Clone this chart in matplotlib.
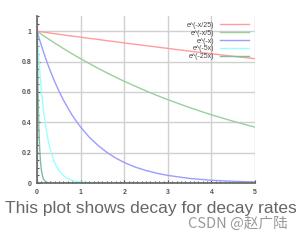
import matplotlib.pyplot as plt
from matplotlib.ticker import MultipleLocator

plt.rcParams['font.family'] = ['Liberation Sans', 'DejaVu Sans']

x = [0, 0.02, 0.04, 0.06, 0.08, 0.1, 0.125, 0.15, 0.2, 0.25, 0.3,
     0.4, 0.5, 0.6, 0.7, 0.8, 0.9, 1.0, 1.2, 1.4, 1.6, 1.8, 2.0,
     2.25, 2.5, 2.75, 3, 3.5, 4, 4.5, 5]
y_25 = [1, 0.999, 0.998, 0.998, 0.997, 0.996, 0.995, 0.994, 0.992, 0.990, 0.988,
        0.984, 0.980, 0.976, 0.972, 0.968, 0.965, 0.961, 0.953, 0.946, 0.938,
        0.931, 0.923, 0.914, 0.905, 0.896, 0.887, 0.869, 0.852, 0.835, 0.819]
y_5 = [1, 0.996, 0.992, 0.988, 0.984, 0.980, 0.975, 0.970, 0.961, 0.951, 0.942,
       0.923, 0.905, 0.887, 0.869, 0.852, 0.835, 0.819, 0.787, 0.756, 0.726,
       0.698, 0.670, 0.638, 0.607, 0.577, 0.549, 0.497, 0.449, 0.407, 0.368]
y_1 = [1, 0.980, 0.961, 0.942, 0.923, 0.905, 0.882, 0.861, 0.819, 0.779, 0.741,
       0.670, 0.607, 0.549, 0.497, 0.449, 0.407, 0.368, 0.301, 0.247, 0.202,
       0.165, 0.135, 0.105, 0.082, 0.064, 0.050, 0.030, 0.018, 0.011, 0.007]
y_m5 = [1, 0.905, 0.819, 0.741, 0.670, 0.607, 0.535, 0.472, 0.368, 0.287, 0.223,
        0.135, 0.082, 0.050, 0.030, 0.018, 0.011, 0.007, 0.002, 0.001, 0,
        0, 0, 0, 0, 0, 0, 0, 0, 0, 0]
y_m25 = [1, 0.607, 0.368, 0.223, 0.135, 0.082, 0.044, 0.024, 0.007, 0.002, 0.001,
         0, 0, 0, 0, 0, 0, 0, 0, 0, 0,
         0, 0, 0, 0, 0, 0, 0, 0, 0, 0]

labels = ['e^(-x/25)', 'e^(-x/5)', 'e^(-x)', 'e^(-5x)', 'e^(-25x)']
colors = ['#ff9c9c', '#9ccf9c', '#9c9cff', '#9cffff', '#7fbf9f']
series = [y_25, y_5, y_1, y_m5, y_m25]

fig = plt.figure(figsize=(3.04, 2.40), dpi=100)
ax = fig.add_axes([0.122, 0.2375, 0.717, 0.6955])

for ys, lab, c in zip(series, labels, colors):
    ax.plot(x, ys, color=c, lw=1.0, label=lab)

ax.set_xlim(0, 5)
ax.set_ylim(0, 1.1)
ax.set_xticks([0, 1, 2, 3, 4, 5])
ax.set_yticks([0, 0.2, 0.4, 0.6, 0.8, 1])
ax.set_yticklabels(['0', '0.2', '0.4', '0.6', '0.8', '1'])
ax.xaxis.set_minor_locator(MultipleLocator(0.1))
ax.yaxis.set_minor_locator(MultipleLocator(0.05))
ax.grid(True, which='major', color='#d0d0d0', lw=1.0, zorder=0)
ax.tick_params(which='both', direction='in', colors='#555555', labelsize=5,
               length=2, width=0.8, pad=4)
ax.tick_params(which='minor', length=1.5)
for lbl in ax.get_xticklabels() + ax.get_yticklabels():
    lbl.set_fontweight('bold')
for s in ['top', 'right']:
    ax.spines[s].set_visible(False)
for s in ['left', 'bottom']:
    ax.spines[s].set_color('#666666')
    ax.spines[s].set_linewidth(1.2)

leg = ax.legend(loc='upper right', fontsize=5, frameon=False, markerfirst=False,
                handlelength=4.2, labelspacing=0.12, borderaxespad=0.2,
                bbox_to_anchor=(0.99, 0.99))
for t in leg.get_texts():
    t.set_color('#444444')

fig.text(0.017, 0.132, 'This plot shows decay for decay rates', fontsize=12.5,
         color='#666666', ha='left', va='center')
fig.text(0.948, 0.07, 'CSDN @赵广陆', fontsize=10.5, color='#999999', ha='right',
         va='center', family=['Noto Sans CJK SC', 'DejaVu Sans'])

fig.savefig('out.png', dpi=100)
plt.close()
